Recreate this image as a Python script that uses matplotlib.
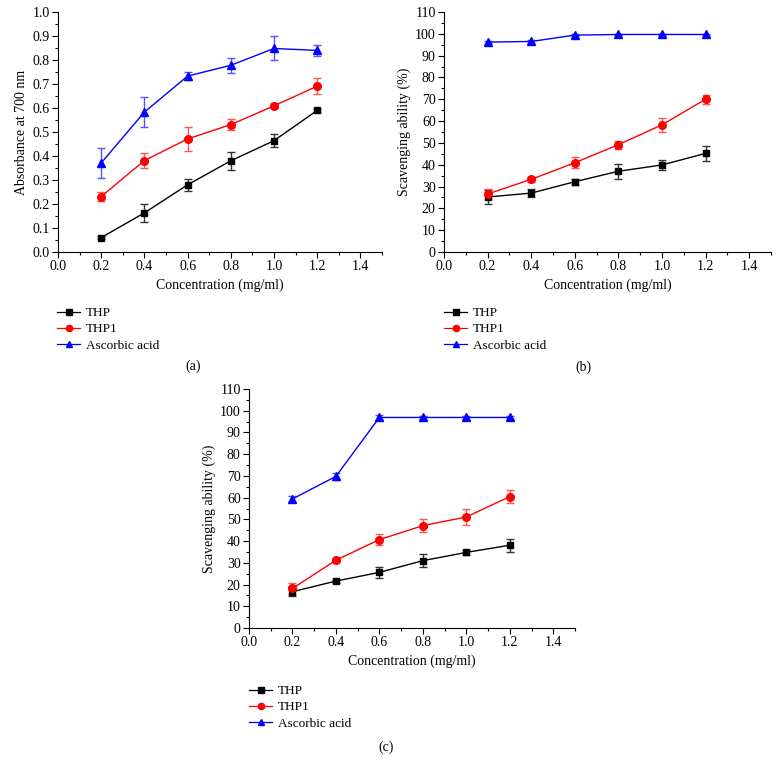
import numpy as np
import matplotlib
matplotlib.use("Agg")
import matplotlib.pyplot as plt
from matplotlib.ticker import MultipleLocator, FormatStrFormatter
from matplotlib.lines import Line2D

plt.rcParams['font.family'] = ['Liberation Serif', 'DejaVu Serif']
plt.rcParams['font.size'] = 10

conc = [0.2, 0.4, 0.6, 0.8, 1.0, 1.2]
series_names = ['THP', 'THP1', 'Ascorbic acid']

# (a) reducing power
a_thp = [0.06, 0.163, 0.28, 0.38, 0.464, 0.59]
a_thp_err = [0.006, 0.037, 0.024, 0.037, 0.026, 0.006]
a_thp1 = [0.231, 0.381, 0.471, 0.531, 0.609, 0.691]
a_thp1_err = [0.02, 0.03, 0.05, 0.022, 0.01, 0.032]
a_asc = [0.371, 0.583, 0.733, 0.778, 0.848, 0.84]
a_asc_err = [0.062, 0.061, 0.015, 0.032, 0.05, 0.024]

# (b) scavenging ability
b_thp = [25.2, 27.0, 32.2, 37.0, 39.9, 45.2]
b_thp_err = [3.0, 2.0, 1.3, 3.4, 2.3, 3.5]
b_thp1 = [26.6, 33.3, 40.9, 49.2, 58.3, 70.0]
b_thp1_err = [2.5, 1.0, 2.5, 1.8, 3.2, 2.0]
b_asc = [96.2, 96.5, 99.4, 99.7, 99.7, 99.7]
b_asc_err = [0.6, 0.6, 0.5, 0.4, 0.4, 0.4]

# (c) scavenging ability
c_thp = [16.7, 21.6, 25.6, 31.0, 34.8, 38.1]
c_thp_err = [2.1, 0.7, 2.7, 3.0, 1.3, 3.0]
c_thp1 = [18.2, 31.2, 40.7, 47.1, 51.1, 60.5]
c_thp1_err = [2.5, 0.8, 2.4, 3.0, 3.6, 2.8]
c_asc = [59.4, 69.8, 96.9, 96.9, 96.9, 96.9]
c_asc_err = [1.5, 1.7, 1.0, 0.8, 0.8, 0.8]

colors = ['black', '#ff0000', '#0000ff']
ecolors = ['#333333', '#ff5555', '#5555ff']
markers = ['s', 'o', '^']
msizes = [5, 5.5, 6]

W, H = 779, 772
fig = plt.figure(figsize=(W / 100, H / 100), dpi=100)


def panel(box, ys, errs, ylim, ymajor, yminor, ylabel, leg_xy, tag, tag_xy):
    left, right, top, bottom = box
    ax = fig.add_axes([left / W, 1 - bottom / H, (right - left) / W, (bottom - top) / H])
    for y, e, c, ec, m, ms in zip(ys, errs, colors, ecolors, markers, msizes):
        ax.errorbar(conc, y, yerr=e, color=c, ecolor=ec, marker=m, ms=ms, lw=1,
                    elinewidth=1, capsize=3, capthick=1)
    ax.set_xlim(0, 1.5)
    ax.set_ylim(*ylim)
    ax.xaxis.set_major_locator(MultipleLocator(0.2))
    ax.xaxis.set_minor_locator(MultipleLocator(0.1))
    ax.yaxis.set_major_locator(MultipleLocator(ymajor))
    ax.yaxis.set_minor_locator(MultipleLocator(yminor))
    if ymajor < 1:
        ax.yaxis.set_major_formatter(FormatStrFormatter('%.1f'))
    ax.xaxis.set_major_formatter(FormatStrFormatter('%.1f'))
    ax.spines['top'].set_visible(False)
    ax.spines['right'].set_visible(False)
    ax.tick_params(which='major', length=4, width=0.8, direction='out', labelsize=10, pad=2)
    ax.tick_params(which='minor', length=2, width=0.8, direction='out')
    ax.set_xlabel('Concentration (mg/ml)', fontsize=10, labelpad=4)
    ax.set_ylabel(ylabel, fontsize=10, labelpad=3)
    handles = [Line2D([], [], color=c, marker=m, ms=4.5, lw=0.9) for c, m in zip(colors, markers)]
    fig.legend(handles, series_names, loc='upper left',
               bbox_to_anchor=(leg_xy[0] / W, 1 - leg_xy[1] / H),
               frameon=False, handlelength=1.75, handletextpad=0.45, labelspacing=0.3,
               fontsize=9.5, borderaxespad=0, borderpad=0)
    fig.text(tag_xy[0] / W, 1 - tag_xy[1] / H, tag, ha='center', va='center', fontsize=10)
    return ax


panel((58, 382, 12, 252), [a_thp, a_thp1, a_asc], [a_thp_err, a_thp1_err, a_asc_err],
      (0, 1.0), 0.1, 0.05, 'Absorbance at 700 nm', (57, 307), '(a)', (193, 366))
panel((444, 771, 12, 252), [b_thp, b_thp1, b_asc], [b_thp_err, b_thp1_err, b_asc_err],
      (0, 110), 10, 5, 'Scavenging ability (%)', (444, 307), '(b)', (583, 367))
panel((249, 575, 389, 628), [c_thp, c_thp1, c_asc], [c_thp_err, c_thp1_err, c_asc_err],
      (0, 110), 10, 5, 'Scavenging ability (%)', (249, 685), '(c)', (386, 747))

fig.savefig('out.png', dpi=100)
